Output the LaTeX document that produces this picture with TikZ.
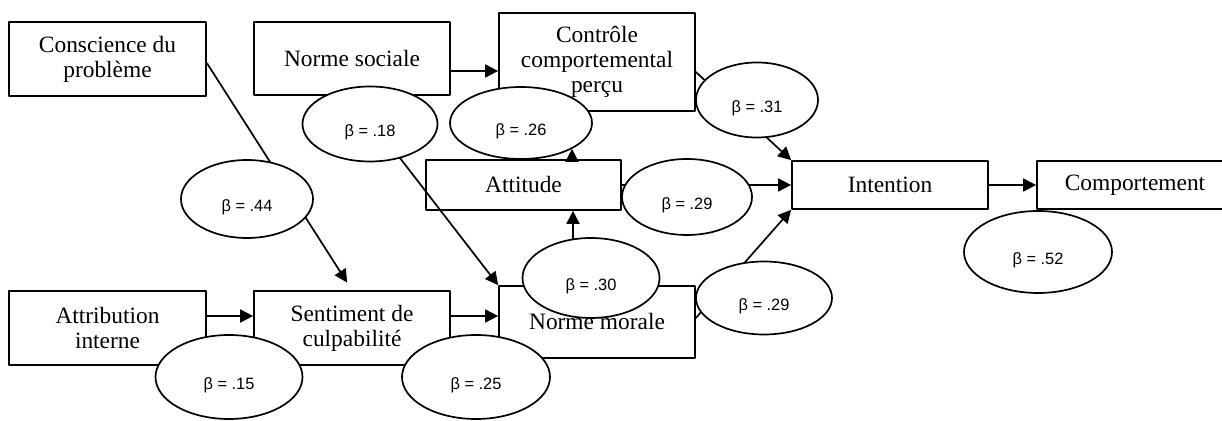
\documentclass[tikz,border=0pt]{standalone}
\usepackage{fontspec}
\setmainfont{Liberation Serif}
\newfontfamily\betafont{Liberation Sans}
\usetikzlibrary{shapes.geometric,arrows.meta}
\newcommand\coef[1]{\smash{\raisebox{-6.2pt}{β = #1}}}

\begin{document}
\begin{tikzpicture}[x=0.5pt, y=-0.5pt, line width=0.85pt, line join=round, >={Triangle[length=6.5pt,width=6.5pt]},
 box/.style={draw, align=center, inner sep=0pt, font=\fontsize{11.7}{12.5}\selectfont},
 beta/.style={draw, ellipse, fill=white, inner sep=0pt, font=\betafont\fontsize{8.2}{9}\selectfont}]
 \useasboundingbox (0,0) rectangle (1222,421);
 \clip (0,0) rectangle (1222,421);
 % boites
 \node[box, minimum width=98.5pt, minimum height=37pt] (consc) at (107.5,59) {Conscience du\\problème};
 \node[box, minimum width=98pt, minimum height=36.5pt] (sociale) at (352,58.5) {Norme sociale};
 \node[box, minimum width=98pt, minimum height=49pt] (controle) at (597,62) {Contrôle\\comportemental\\perçu};
 \node[box, minimum width=97.5pt, minimum height=25pt] (attitude) at (523.5,185) {Attitude};
 \node[box, minimum width=98pt, minimum height=24pt] (intention) at (890,185) {Intention};
 \node[box, minimum width=98pt, minimum height=24pt] (comport) at (1135,185) {Comportement};
 \node[box, minimum width=98.5pt, minimum height=37pt] (attrib) at (107.5,328) {Attribution\\interne};
 \node[box, minimum width=98pt, minimum height=37pt] (sentiment) at (352,328) {Sentiment de\\culpabilité};
 \node[box, minimum width=98pt, minimum height=36pt] (morale) at (597,322) {Norme morale};
 % fleches
 \draw[->, shorten >=4.5pt] ([yshift=-2pt]consc.east) -- (sentiment.north);
 \draw[->] ([yshift=-6.25pt]sociale.east) -- ([yshift=-6.25pt]sociale.east -| controle.west);
 \draw[->] (sociale.south) -- (morale.north west);
 \draw[->] ([yshift=6pt]attrib.east) -- ([yshift=6pt]attrib.east -| sentiment.west);
 \draw[->] ([yshift=6pt]sentiment.east) -- ([yshift=6pt]sentiment.east -| morale.west);
 \draw[->] ([xshift=-12pt]morale.north) -- ([xshift=-12pt]morale.north |- attitude.south);
 \draw[->] (attitude.east) -- (intention.west);
 \draw[->] ([yshift=-5pt]controle.east) -- (intention.north west);
 \draw[->] ([yshift=2pt]morale.east) -- (intention.south west);
 \draw[->] (intention.east) -- (comport.west);
 % coefficients
 \node[beta, minimum width=66pt, minimum height=39pt] (b44) at (247,199) {\coef{.44}};
 \node[beta, minimum width=67.5pt, minimum height=37.5pt] (b18) at (370,124) {\coef{.18}};
 \node[beta, minimum width=71pt, minimum height=36pt] (b26) at (521,123) {\coef{.26}};
 \node[beta, minimum width=61pt, minimum height=37.5pt] (b31) at (757,100) {\coef{.31}};
 \node[beta, minimum width=65pt, minimum height=38pt] (b29a) at (687,197) {\coef{.29}};
 \node[beta, minimum width=68.5pt, minimum height=40pt] (b30) at (591,278) {\coef{.30}};
 \node[beta, minimum width=68pt, minimum height=36.5pt] (b29b) at (764,298) {\coef{.29}};
 \node[beta, minimum width=74pt, minimum height=42pt] (b25) at (476,377) {\coef{.25}};
 \node[beta, minimum width=73.5pt, minimum height=42pt] (b15) at (229,377) {\coef{.15}};
 \node[beta, minimum width=74pt, minimum height=41pt] (b52) at (1038,252) {\coef{.52}};
 \draw[->, shorten >=18.5pt] ([xshift=24.25pt]attitude.north) -- ([xshift=24.25pt]attitude.north |- controle.south);
\end{tikzpicture}
\end{document}
